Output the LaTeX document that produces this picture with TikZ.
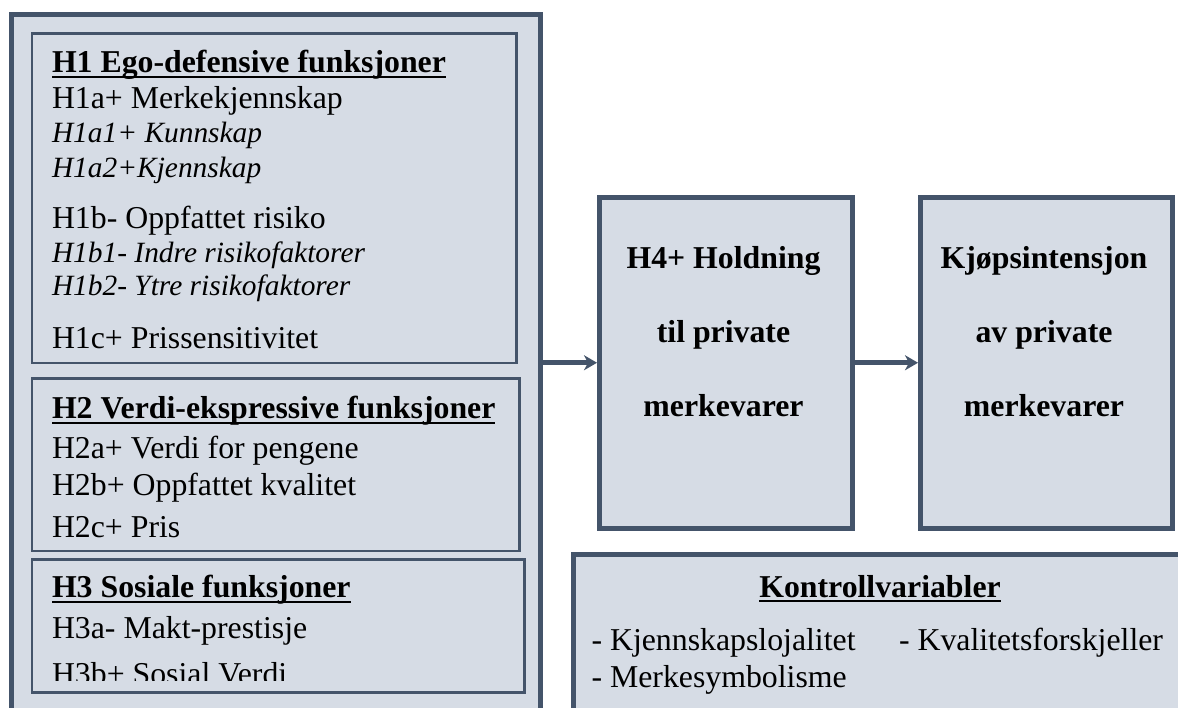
\documentclass[tikz,border=0pt]{standalone}
\usepackage{fontspec}
\setmainfont{Liberation Serif}
\usetikzlibrary{arrows.meta}
\definecolor{boxfill}{HTML}{D6DCE5}
\definecolor{boxline}{HTML}{44546A}
\tikzset{
  txt/.style={anchor=base west,inner sep=0pt,outer sep=0pt,font=\fontsize{15.9pt}{19pt}\selectfont},
  itxt/.style={txt,font=\fontsize{14.7pt}{18pt}\selectfont\itshape},
  btxt/.style={txt,font=\fontsize{15.9pt}{19pt}\selectfont\bfseries},
  ctxt/.style={btxt,anchor=base},
  ul/.style={line width=1.1pt,black},
  bigbox/.style={draw=boxline,fill=boxfill,line width=2.5pt},
  inbox/.style={draw=boxline,fill=boxfill,line width=1.3pt},
  flow/.style={draw=boxline,line width=2.5pt,-{Stealth[length=6.5pt,width=7.5pt,inset=2pt]}},
}
\begin{document}
\begin{tikzpicture}[x=0.5pt,y=-0.5pt]
\useasboundingbox (0,0) rectangle (1178,707);
\clip (0,0) rectangle (1178,707);
% outer box and groups
\node[bigbox,inner sep=0pt,minimum width=529*0.5pt,minimum height=720*0.5pt,anchor=north west] (outer) at (9,11.5) {};
\node[inbox,inner sep=0pt,minimum width=484.5*0.5pt,minimum height=329.5*0.5pt,anchor=north west] (g1) at (30.5,32) {};
\node[inbox,inner sep=0pt,minimum width=487.5*0.5pt,minimum height=172.5*0.5pt,anchor=north west] (g2) at (30.5,377) {};
\node[inbox,inner sep=0pt,minimum width=492.5*0.5pt,minimum height=133*0.5pt,anchor=north west] (g3) at (30.5,558) {};
% H1
\node[btxt] (h1) at (52,72) {H1 Ego-defensive funksjoner};
\draw[ul] ([yshift=-2.5pt]h1.base west) -- ([yshift=-2.5pt]h1.base east);
\node[txt] (h1a) at (52,108) {H1a+ Merkekjennskap};
\node[itxt] (h1a1) at (52,142) {H1a1+ Kunnskap};
\node[itxt] (h1a2) at (52,177) {H1a2+Kjennskap};
\node[txt] (h1b) at (52,228) {H1b- Oppfattet risiko};
\node[itxt] (h1b1) at (52,262) {H1b1- Indre risikofaktorer};
\node[itxt] (h1b2) at (52,295) {H1b2- Ytre risikofaktorer};
\node[txt] (h1c) at (52,348) {H1c+ Prissensitivitet};
% H2
\node[btxt] (h2) at (52,418) {H2 Verdi-ekspressive funksjoner};
\draw[ul] ([yshift=-2.3pt]h2.base west) -- ([yshift=-2.3pt]h2.base east);
\node[txt] (h2a) at (52,458) {H2a+ Verdi for pengene};
\node[txt] (h2b) at (52,495) {H2b+ Oppfattet kvalitet};
\node[txt] (h2c) at (52,537) {H2c+ Pris};
% H3
\node[btxt] (h3) at (52,597) {H3 Sosiale funksjoner};
\draw[ul] ([yshift=-2.5pt]h3.base west) -- ([yshift=-2.5pt]h3.base east);
\node[txt] (h3a) at (52,638) {H3a- Makt-prestisje};
\begin{scope}
\clip (30,560) rectangle (520,680.5);
\node[txt] (h3b) at (52,684) {H3b+ Sosial Verdi};
\end{scope}
% right boxes
\node[bigbox,inner sep=0pt,minimum width=253*0.5pt,minimum height=330.5*0.5pt,anchor=north west] (h4) at (597,195) {};
\node[bigbox,inner sep=0pt,minimum width=252*0.5pt,minimum height=330.5*0.5pt,anchor=north west] (kj) at (918,195) {};
\node[ctxt] (h4t1) at (723.5,268) {H4+ Holdning};
\node[ctxt] (h4t2) at (723.5,342) {til private};
\node[ctxt] (h4t3) at (723.5,416) {merkevarer};
\node[ctxt] (kjt1) at (1044,268) {Kjøpsintensjon};
\node[ctxt] (kjt2) at (1044,342) {av private};
\node[ctxt] (kjt3) at (1044,416) {merkevarer};
% control box
\node[bigbox,inner sep=0pt,minimum width=640*0.5pt,minimum height=200*0.5pt,anchor=north west] (ko) at (571,551.5) {};
\node[ctxt] (kot) at (880,597) {Kontrollvariabler};
\draw[ul] ([yshift=-2pt]kot.base west) -- ([yshift=-2pt]kot.base east);
\node[txt] (k1) at (591.5,650) {- Kjennskapslojalitet};
\node[txt] (k2) at (899,650) {- Kvalitetsforskjeller};
\node[txt] (k3) at (591.5,687) {- Merkesymbolisme};
% arrows
\coordinate (a1) at (h4.west -| outer.east);
\draw[flow] (a1) -- (h4.west);
\draw[flow] (h4.east) -- (kj.west);
\end{tikzpicture}
\end{document}
